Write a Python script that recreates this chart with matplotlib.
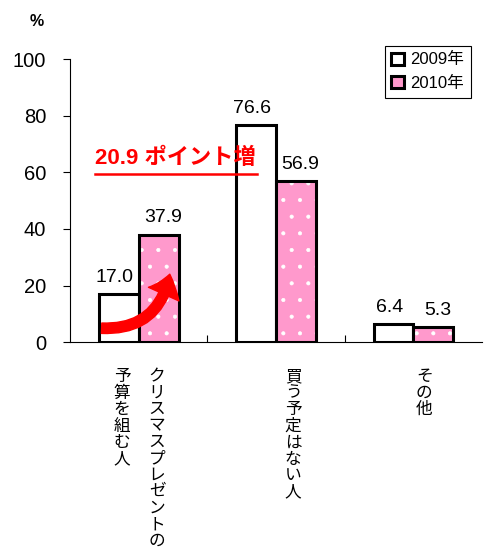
import matplotlib.pyplot as plt
from matplotlib.patches import FancyArrowPatch, Patch
import numpy as np

plt.rcParams['font.family'] = ['Liberation Sans', 'Noto Sans CJK JP', 'DejaVu Sans']
plt.rcParams['hatch.color'] = 'white'
plt.rcParams['hatch.linewidth'] = 0.5

# data
categories = ['クリスマスプレゼントの予算を組む人', '買う予定はない人', 'その他']
label_columns = [['クリスマスプレゼントの', '予算を組む人'], ['買う予定はない人'], ['その他']]
years = ['2009年', '2010年']
values_2009 = [17.0, 76.6, 6.4]
values_2010 = [37.9, 56.9, 5.3]

pink = '#ff99cc'
x = np.arange(len(categories))
w = 0.29

fig = plt.figure(figsize=(4.86, 5.52), dpi=100)
ax = fig.add_axes([0.144, 0.380, 0.848, 0.513])

# 2009 bars
ax.bar(x - w / 2, values_2009, w, color='white', edgecolor='black', linewidth=2.2, zorder=3)
# 2010 bars: pink with white dots, then black outline on top
ax.bar(x + w / 2, values_2010, w, color=pink, edgecolor='white', hatch='.', linewidth=0, zorder=3)
ax.bar(x + w / 2, values_2010, w, fill=False, edgecolor='black', linewidth=2.2, zorder=4)

for xi, v in zip(x - w / 2, values_2009):
    ax.text(xi - 0.03, v + 3, f'{v:.1f}', ha='center', va='bottom', fontsize=14)
for xi, v in zip(x + w / 2, values_2010):
    ax.text(xi + 0.03, v + 3, f'{v:.1f}', ha='center', va='bottom', fontsize=14)

ax.set_xlim(-0.5, 2.5)
ax.set_ylim(0, 100)
ax.set_yticks([0, 20, 40, 60, 80, 100])
ax.tick_params(axis='y', labelsize=14.5, length=5, pad=12)
ax.set_xticks([0.5, 1.5])
ax.set_xticklabels([])
ax.tick_params(axis='x', length=5, direction='in')
ax.spines['top'].set_visible(False)
ax.spines['right'].set_visible(False)
ax.spines['left'].set_bounds(0, 100)
ax.text(-0.08, 1.115, '%', transform=ax.transAxes, fontsize=11.5, fontweight='bold', ha='center')

# vertical category labels (columns right to left)
label_x = [[0.134, -0.121], [1.124], [2.078]]
for cols, xs in zip(label_columns, label_x):
    for col, lx in zip(cols, xs):
        ax.text(lx, -0.095, '\n'.join(col), transform=ax.get_xaxis_transform(),
                ha='center', va='top', fontsize=12, linespacing=1.12)

# legend
handles = [Patch(facecolor='white', edgecolor='black', linewidth=2.2),
           Patch(facecolor=pink, edgecolor='black', linewidth=2.2)]
leg = ax.legend(handles, years, loc='upper right', bbox_to_anchor=(0.985, 1.065),
                fontsize=12, handlelength=0.75, handleheight=0.75, handletextpad=0.4,
                fancybox=False, framealpha=1, edgecolor='black', borderpad=0.4,
                labelspacing=0.5, borderaxespad=0.3)
leg.get_frame().set_linewidth(0.8)

# annotation
ax.text(0.27, 65, '20.9 ポイント増', color='#ff0000', fontsize=16, fontweight='bold',
        ha='center', va='center', zorder=6)
ax.plot([-0.318, 0.862], [59.4, 59.4], color='#ff0000', linewidth=1.8, clip_on=False, zorder=6)

arrow = FancyArrowPatch((-0.29, 5.0), (0.23, 25), connectionstyle='arc3,rad=0.45',
                        arrowstyle='simple,head_length=10,head_width=16,tail_width=5',
                        color='#ff0000', zorder=7, mutation_scale=1.5)
ax.add_patch(arrow)

fig.savefig('out.png', dpi=100)
